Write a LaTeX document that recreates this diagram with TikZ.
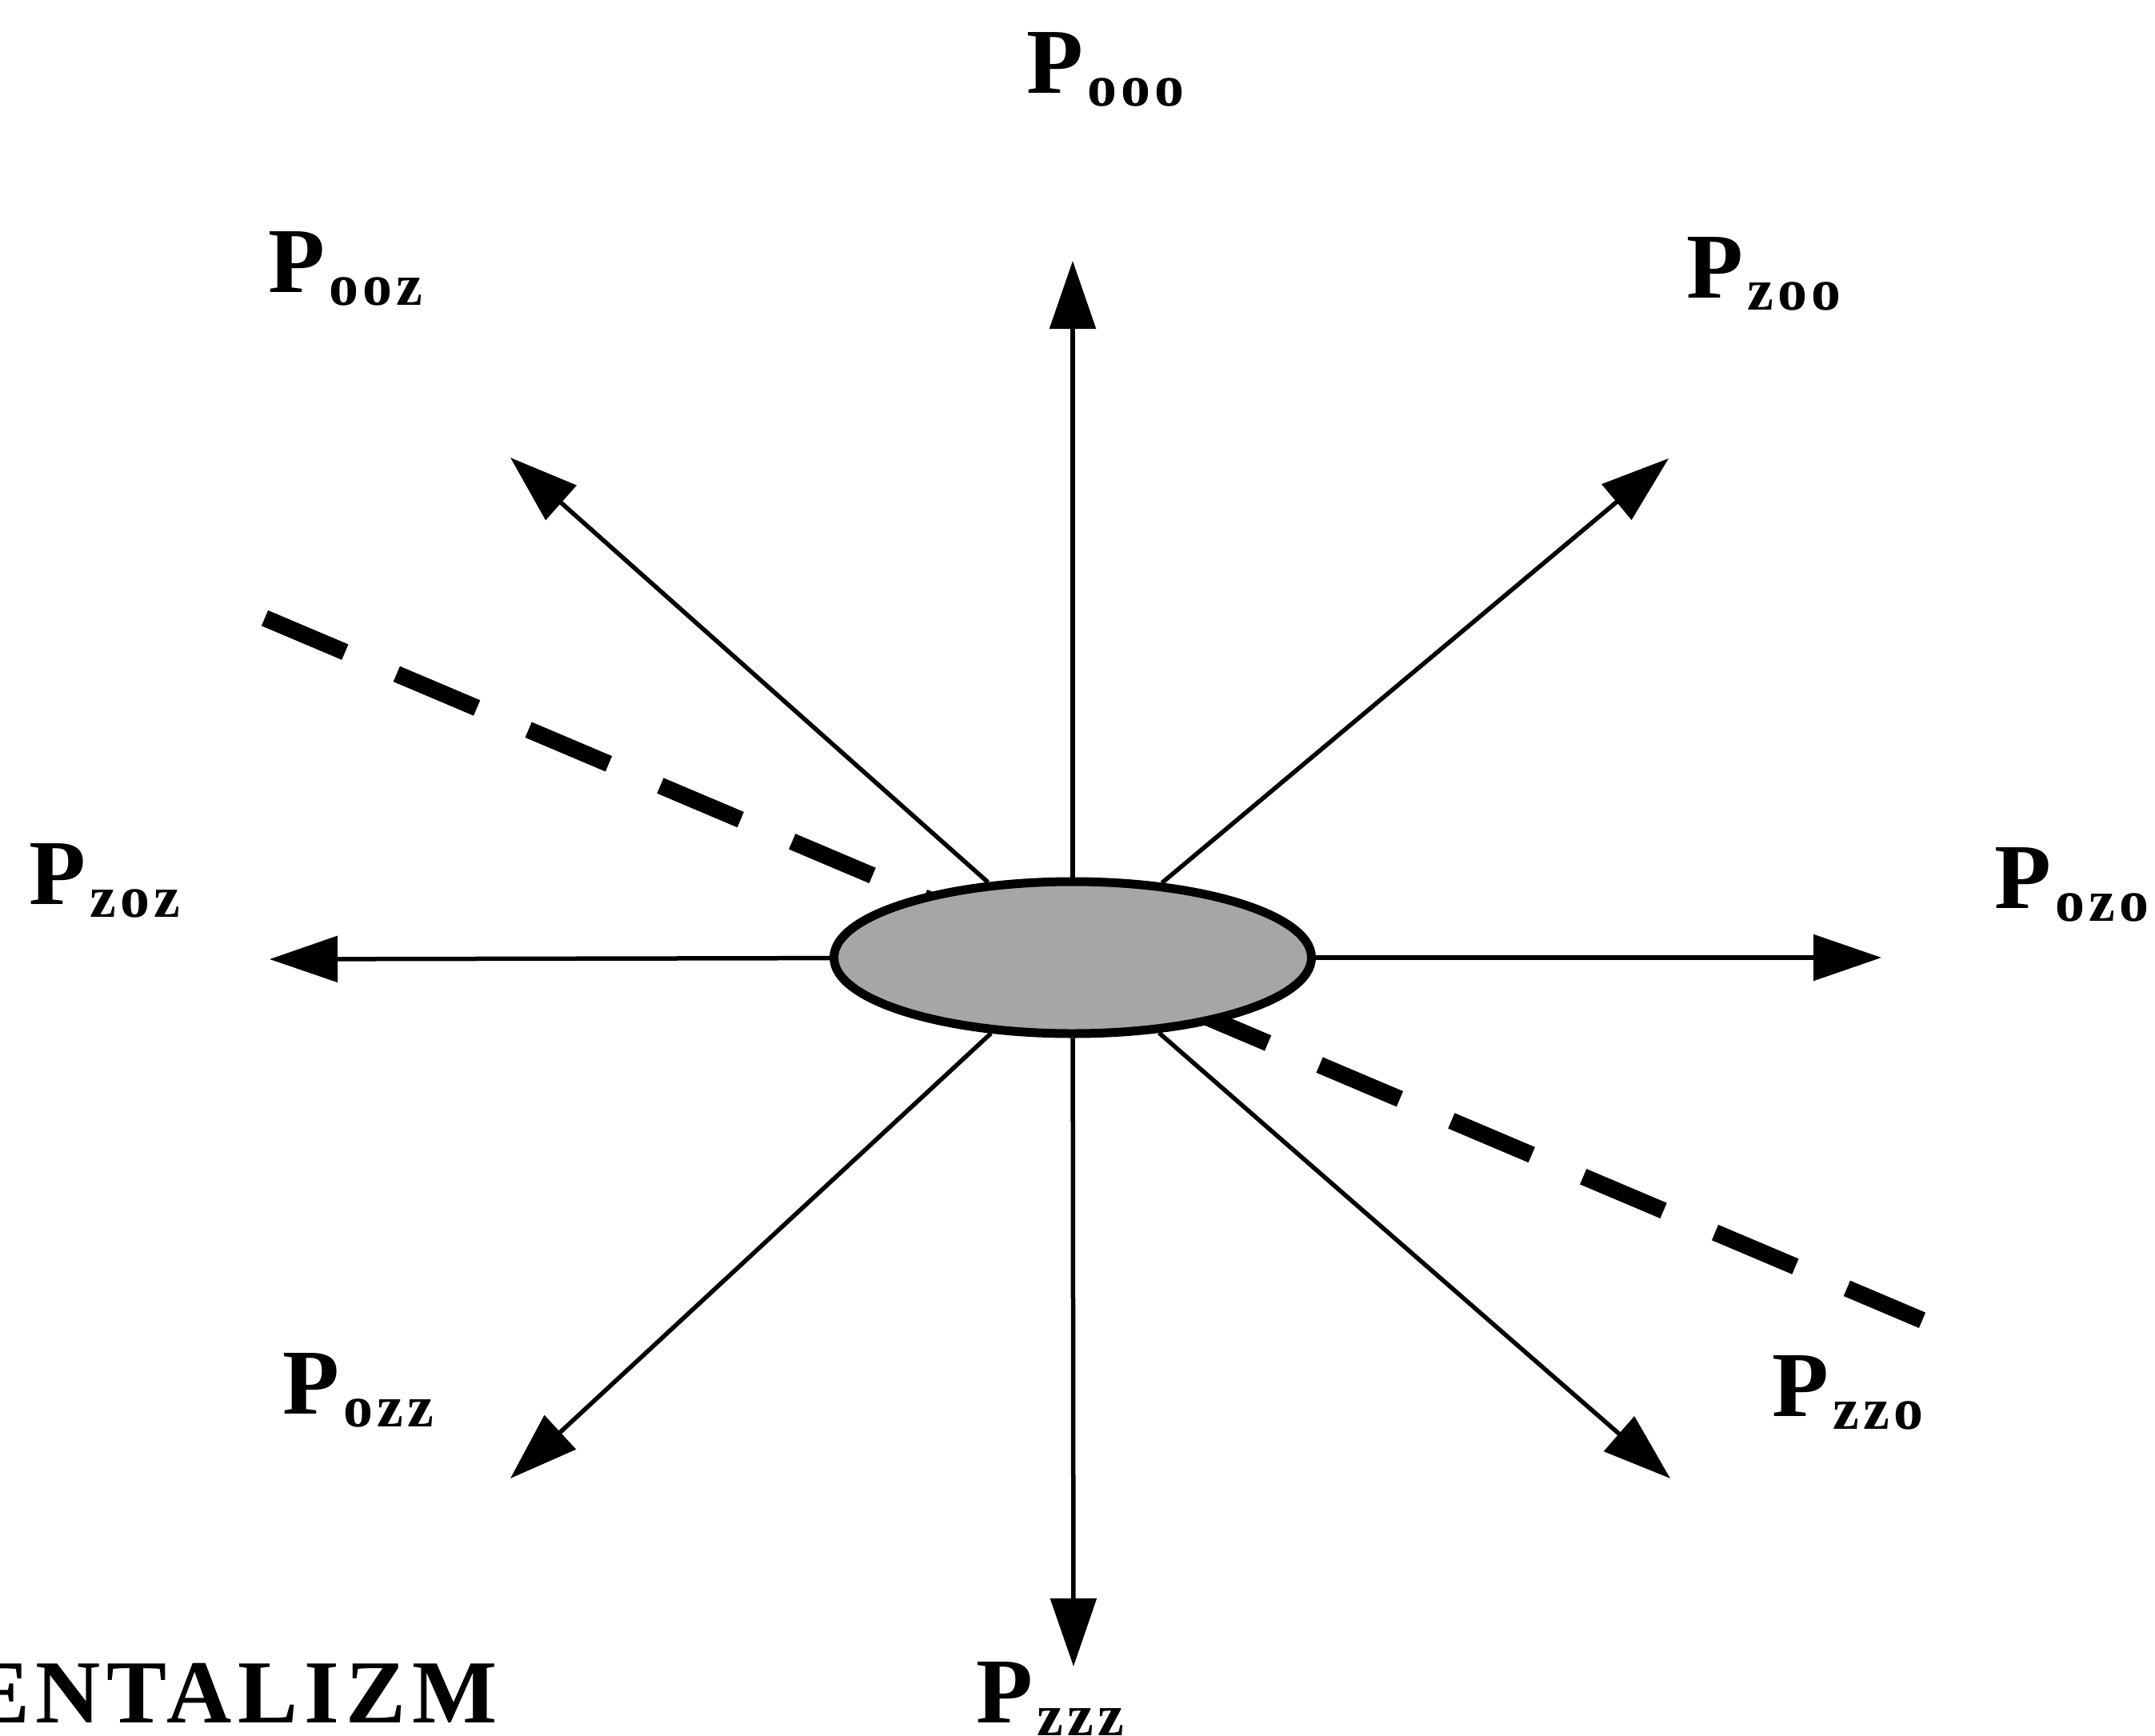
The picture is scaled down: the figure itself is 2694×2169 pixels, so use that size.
\documentclass[tikz,border=0pt]{standalone}
\usepackage{fontspec}
\setmainfont{Liberation Serif}
\usepackage{tikz}
\usetikzlibrary{arrows.meta,shapes.geometric}
\definecolor{blobgray}{HTML}{A6A6A6}
\newcommand{\psubfont}{\fontsize{21}{21}\selectfont\addfontfeature{LetterSpace=7}}
\newcommand{\plab}[1]{P\kern0.5mm\raisebox{-1.6mm}{\psubfont #1}}
\tikzset{
    ray/.style={-{Triangle[length=8.5mm,width=5.7mm]},line width=0.55mm},
    cutline/.style={line width=2.1mm,dash pattern=on 10.9mm off 7mm},
    core/.style={ellipse,draw,fill=blobgray,line width=1.1mm,
      minimum width=59.7mm,minimum height=19mm,inner sep=0pt},
    plabel/.style={anchor=base west,inner sep=0pt,
      font=\fontsize{33}{33}\selectfont\bfseries},
    bigword/.style={anchor=base east,inner sep=0pt,
      font=\fontsize{32}{32}\selectfont\bfseries\addfontfeature{LetterSpace=7}}
}
\begin{document}
\begin{tikzpicture}[x=0.1mm,y=-0.1mm]
  \useasboundingbox (0,0) rectangle (2694,2169);
  % dashed divider, under the core
  \coordinate (cutA) at (331,772.6);
  \coordinate (cutB) at (2403,1650.3);
  \draw[cutline] (cutA) -- (cutB);
  \node[core] (core) at (1341,1197) {};
  % ray ends
  \coordinate (tN) at (1341,326);
  \coordinate (tNE) at (2086,573);
  \coordinate (tE) at (2352,1197);
  \coordinate (tSE) at (2088,1848);
  \coordinate (tS) at (1342,2083);
  \coordinate (tSW) at (638,1848);
  \coordinate (tW) at (337,1199);
  \coordinate (tNW) at (638,572);
  \foreach \t in {tN,tNE,tE,tSE,tS,tSW,tW,tNW}
    \draw[ray] (core) -- (\t);
  % labels
  \node[plabel] (pooo) at (1283,117) {\plab{ooo}};
  \node[plabel] (pooz) at (335,365) {\plab{ooz}};
  \node[plabel] (pzoo) at (2108,372) {\plab{zoo}};
  \node[plabel] (pzoz) at (36,1130) {\plab{zoz}};
  \node[plabel] (pozo) at (2493,1135) {\plab{ozo}};
  \node[plabel] (pozz) at (353,1767) {\plab{ozz}};
  \node[plabel] (pzzo) at (2215,1770) {\plab{zzo}};
  \node[plabel] (pzzz) at (1220,2153) {\plab{zzz}};
  \node[bigword] (word) at (622,2153) {ENTALIZM};
\end{tikzpicture}
\end{document}
